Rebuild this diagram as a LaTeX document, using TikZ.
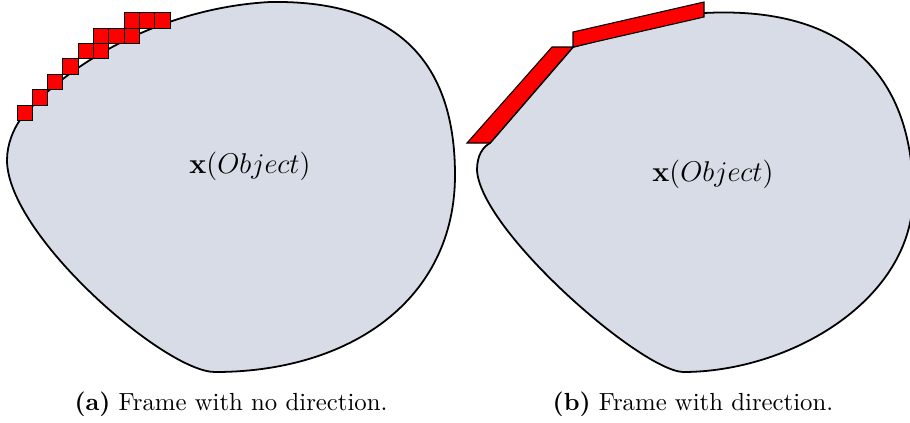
\documentclass[tikz,border=0pt]{standalone}
\definecolor{blobfill}{RGB}{216,220,231}
\begin{document}
\begin{tikzpicture}[x=0.42pt,y=-0.42pt,
  blob/.style={draw=black,line width=0.75pt,fill=blobfill},
  sq/.style={draw=black,line width=0.35pt,fill=red},
  bar/.style={draw=black,line width=0.45pt,fill=red},
  lbl/.style={inner sep=0pt,font=\fontsize{13.1}{15}\selectfont},
  captxt/.style={inner sep=0pt,anchor=base,font=\fontsize{10.4}{12}\selectfont}]
\useasboundingbox (0,0) rectangle (910,422);
% left blob
\draw[blob] (7,160) .. controls (7,145) and (13,130) .. (20,120)
 .. controls (65,65) and (160,8) .. (270,2)
 .. controls (390,0) and (455,55) .. (455,175)
 .. controls (455,300) and (350,372) .. (215,372)
 .. controls (165,372) and (7,235) .. (7,160) -- cycle;
% squares
\foreach \i/\j in {0/0,1/1,2/2,3/3,4/4,5/4,5/5,6/5,7/5,7/6,8/6,9/6}{
  \draw[sq] ({17+15.3*\i},{105-15.4*\j}) rectangle ++(15.3,15.4);
}
\node[lbl] (lt) at (250,166) {$\mathbf{x}(Object)$};
% right blob
\draw[blob] (490,143) -- (573,47) -- (704,13)
 .. controls (860,5) and (913,90) .. (913,195)
 .. controls (913,300) and (790,372) .. (683,372)
 .. controls (640,370) and (480,230) .. (477,170)
 .. controls (477,155) and (483,147) .. (490,143) -- cycle;
\draw[bar] (467,143) -- (490,143) -- (573,47) -- (552,47) -- cycle;
\draw[bar] (573,32) -- (573,47) -- (704,17) -- (704,2) -- cycle;
\node[lbl] (rt) at (713,174) {$\mathbf{x}(Object)$};
% captions
\node[captxt] (ca) at (231,410) {\textbf{(a)} Frame with no direction.};
\node[captxt] (cb) at (693,410) {\textbf{(b)} Frame with direction.};
\end{tikzpicture}
\end{document}
